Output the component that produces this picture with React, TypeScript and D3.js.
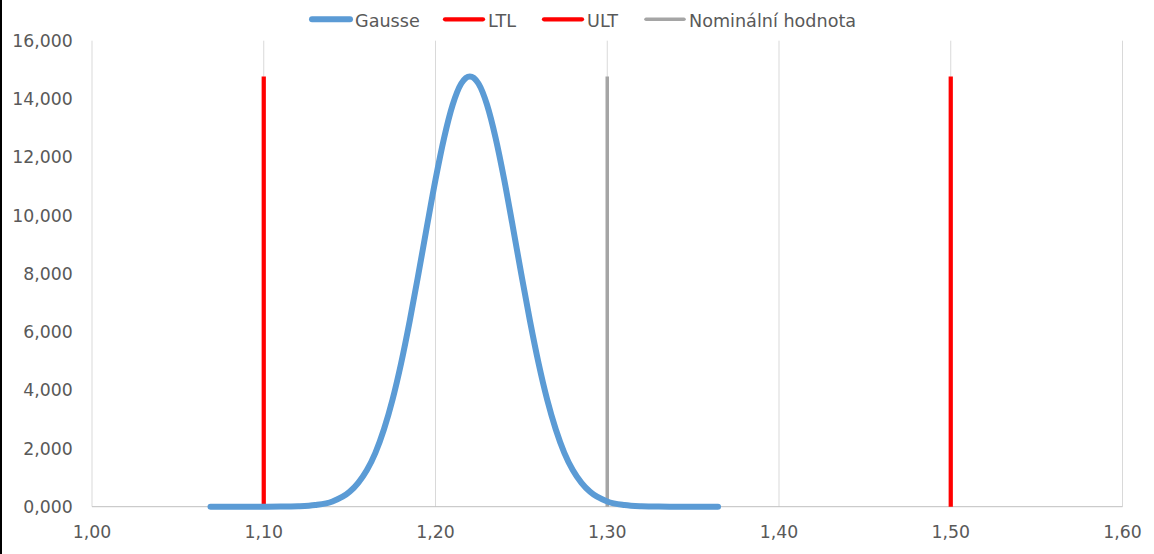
import React from "react";
import * as d3 from "d3";

const gaussX = [1.069, 1.08, 1.09, 1.1, 1.11, 1.12, 1.13, 1.14, 1.15, 1.155, 1.16, 1.165, 1.17, 1.175, 1.18, 1.185, 1.19, 1.195, 1.2, 1.205, 1.21, 1.215, 1.22, 1.225, 1.23, 1.235, 1.24, 1.245, 1.25, 1.255, 1.26, 1.265, 1.27, 1.275, 1.28, 1.285, 1.29, 1.3, 1.31, 1.32, 1.33, 1.34, 1.35, 1.3645];
const gaussY = [0, 0, 0, 0.001, 0.004, 0.016, 0.057, 0.18, 0.51, 0.82, 1.25, 1.85, 2.66, 3.68, 4.93, 6.38, 7.97, 9.62, 11.23, 12.66, 13.8, 14.53, 14.77, 14.53, 13.8, 12.66, 11.23, 9.62, 7.97, 6.38, 4.93, 3.68, 2.66, 1.85, 1.25, 0.82, 0.51, 0.18, 0.057, 0.016, 0.004, 0.001, 0, 0];

const ltlX = [1.1, 1.1];
const ltlY = [0, 14.77];
const ultX = [1.5, 1.5];
const ultY = [0, 14.77];
const nomX = [1.3, 1.3];
const nomY = [0, 14.77];

const xTicks = [1.0, 1.1, 1.2, 1.3, 1.4, 1.5, 1.6];
const yTicks = [0, 2, 4, 6, 8, 10, 12, 14, 16];

const legendNames = ["Gausse", "LTL", "ULT", "Nominální hodnota"];

const W = 1154;
const H = 554;
const FONT = "'DejaVu Sans', Verdana, sans-serif";
const TEXT = "#595959";

export default function App() {
  const x = d3.scaleLinear().domain([1.0, 1.6]).range([92, 1122.5]);
  const y = d3.scaleLinear().domain([0, 16]).range([506.7, 40.7]);
  const fmtX = (v: number) => v.toFixed(2).replace(".", ",");
  const fmtY = (v: number) => (v.toFixed(3)).replace(".", ",");

  const line = d3
    .line<[number, number]>()
    .x((d) => x(d[0]))
    .y((d) => y(d[1]))
    .curve(d3.curveMonotoneX);
  const straight = d3
    .line<[number, number]>()
    .x((d) => x(d[0]))
    .y((d) => y(d[1]));

  const gaussPts = gaussX.map((v, i) => [v, gaussY[i]] as [number, number]);
  const mk = (xs: number[], ys: number[]) => xs.map((v, i) => [v, ys[i]] as [number, number]);

  const series = [
    { name: legendNames[0], d: line(gaussPts), color: "#5B9BD5", w: 6, textX: 355 },
    { name: legendNames[1], d: straight(mk(ltlX, ltlY)), color: "#FF0000", w: 4.25, textX: 488 },
    { name: legendNames[2], d: straight(mk(ultX, ultY)), color: "#FF0000", w: 4.25, textX: 587 },
    { name: legendNames[3], d: straight(mk(nomX, nomY)), color: "#A5A5A5", w: 3.5, textX: 689 },
  ];

  return (
    <svg
      width={W}
      height={H}
      style={{ position: "absolute", left: 0, top: 0, display: "block", background: "#fff" }}
      fontFamily={FONT}
    >
      <rect x={0} y={0} width={W} height={H} fill="#fff" />
      <rect x={0} y={0} width={2} height={H} fill="#000" />
      {xTicks.map((t) => (
        <line key={"g" + t} x1={x(t)} x2={x(t)} y1={y(16)} y2={y(0)} stroke="#D9D9D9" strokeWidth={1} />
      ))}
      <line x1={x(1.0)} x2={x(1.6)} y1={y(0)} y2={y(0)} stroke="#BFBFBF" strokeWidth={1} />
      {yTicks.map((t) => (
        <text key={"y" + t} x={72.7} y={y(t)} dy="0.36em" textAnchor="end" fontSize={17.3} fill={TEXT}>
          {fmtY(t)}
        </text>
      ))}
      {xTicks.map((t) => (
        <text key={"x" + t} x={x(t)} y={538} textAnchor="middle" fontSize={17.3} fill={TEXT}>
          {fmtX(t)}
        </text>
      ))}
      {series.slice().reverse().map((s) => (
        <path key={s.name} d={s.d || ""} fill="none" stroke={s.color} strokeWidth={s.w} strokeLinecap={s.name === "Gausse" ? "round" : "butt"} strokeLinejoin="round" />
      ))}
      {series.map((s) => (
        <g key={"l" + s.name}>
          <line x1={s.textX - 43} x2={s.textX - 5} y1={19.3} y2={19.3} stroke={s.color} strokeWidth={s.w} strokeLinecap="round" />
          <text x={s.textX} y={26.5} fontSize={17.6} fill={TEXT}>
            {s.name}
          </text>
        </g>
      ))}
    </svg>
  );
}
